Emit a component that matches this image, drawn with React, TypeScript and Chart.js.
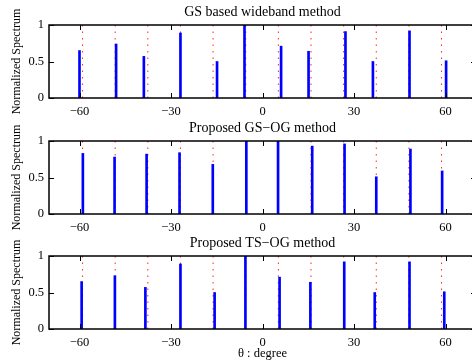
import React, { useEffect, useRef } from "react";
import { Chart, registerables } from "chart.js";
Chart.register(...registerables);

// ---- data ----
const panelTitles = ["GS based wideband method", "Proposed GS\u2212OG method", "Proposed TS\u2212OG method"];
const yAxisLabel = "Normalized Spectrum";
const xAxisLabel = "\u03b8 : degree";

const trueAngles = [-59.0, -48.3, -37.6, -26.9, -16.2, -5.5, 5.2, 15.9, 26.6, 37.3, 48.0, 58.7];

const gsAngles = [-60.0, -48.0, -38.9, -26.9, -14.9, -5.9, 6.1, 15.1, 27.2, 36.2, 48.2, 60.2];
const gsValues = [0.65, 0.74, 0.57, 0.89, 0.5, 1.0, 0.71, 0.64, 0.91, 0.5, 0.92, 0.51];

const gsogAngles = [-58.9, -48.5, -38.0, -27.2, -16.3, -5.3, 5.1, 16.3, 26.9, 37.3, 48.5, 58.9];
const gsogValues = [0.83, 0.78, 0.82, 0.84, 0.68, 1.0, 1.0, 0.93, 0.96, 0.51, 0.89, 0.59];

const tsogAngles = [-59.3, -48.4, -38.4, -26.9, -15.7, -5.6, 5.6, 15.7, 26.8, 36.8, 48.2, 59.6];
const tsogValues = [0.65, 0.73, 0.57, 0.89, 0.5, 1.0, 0.71, 0.64, 0.92, 0.5, 0.92, 0.51];

const xTicks = [-60, -30, 0, 30, 60];
const yTicks = [0, 0.5, 1];
const xMin = -70;
const xMax = 70;

const FONT = '"Liberation Serif", "Times New Roman", serif';

type PanelProps = {
  title: string;
  angles: number[];
  values: number[];
  top: number;
  height: number;
  xLabel?: string;
};

function Panel({ title, angles, values, top, height, xLabel }: PanelProps) {
  const ref = useRef<HTMLCanvasElement>(null);
  useEffect(() => {
    const canvas = ref.current!;
    const plotBottom = 98;
    const decor = {
      id: "decor",
      afterDatasetsDraw(chart: any) {
        const { ctx, chartArea: a } = chart;
        const xs = chart.scales.x;
        const ys = chart.scales.y;
        ctx.save();
        ctx.strokeStyle = "#000";
        ctx.lineWidth = 1;
        ctx.beginPath();
        xTicks.forEach((v) => {
          const px = Math.round(xs.getPixelForValue(v)) + 0.5;
          ctx.moveTo(px, a.bottom);
          ctx.lineTo(px, a.bottom - 5);
          ctx.moveTo(px, a.top);
          ctx.lineTo(px, a.top + 5);
        });
        yTicks.forEach((v) => {
          const py = Math.round(ys.getPixelForValue(v)) + 0.5;
          ctx.moveTo(a.left, py);
          ctx.lineTo(a.left + 5, py);
          ctx.moveTo(a.right, py);
          ctx.lineTo(a.right - 5, py);
        });
        ctx.stroke();
        ctx.lineWidth = 1.5;
        ctx.strokeRect(a.left, a.top, a.right - a.left, a.bottom - a.top);
        ctx.fillStyle = "#000";
        ctx.textAlign = "center";
        ctx.textBaseline = "alphabetic";
        ctx.font = `14px ${FONT}`;
        ctx.fillText(title, (a.left + a.right) / 2, a.top - 9.3);
        ctx.font = `12px ${FONT}`;
        ctx.save();
        ctx.translate(20, (a.top + a.bottom) / 2);
        ctx.rotate(-Math.PI / 2);
        ctx.fillText(yAxisLabel, 0, 0);
        ctx.restore();
        if (xLabel) {
          ctx.font = `12.5px ${FONT}`;
          ctx.fillText(xLabel, (a.left + a.right) / 2, 126);
        }
        ctx.restore();
      },
    };

    const redData: any[] = [];
    trueAngles.forEach((a) => {
      redData.push({ x: a, y: 0 }, { x: a, y: 1 }, { x: a, y: null });
    });

    const chart = new Chart(canvas, {
      type: "bar",
      data: {
        datasets: [
          {
            type: "bar",
            data: angles.map((a, i) => ({ x: a, y: values[i] })),
            backgroundColor: "#0000ff",
            barThickness: 2,
            order: 0,
          } as any,
          {
            type: "line",
            data: redData,
            borderColor: "rgba(255,0,0,0.85)",
            borderWidth: 1,
            borderDash: [1.5, 5],
            pointRadius: 0,
            spanGaps: false,
            order: 1,
          } as any,
        ],
      },
      options: {
        animation: false,
        responsive: false,
        events: [],
        layout: { padding: { left: 0, right: 4, top: 25, bottom: 0 } },
        plugins: {
          legend: { display: false },
          tooltip: { enabled: false },
          title: { display: false },
        },
        scales: {
          x: {
            type: "linear",
            min: xMin,
            max: xMax,
            offset: false,
            afterBuildTicks: (s: any) => {
              s.ticks = xTicks.map((v) => ({ value: v }));
            },
            afterFit: (s: any) => {
              s.height = height - plotBottom;
              s.paddingLeft = 0;
              s.paddingRight = 0;
            },
            grid: { display: false, drawTicks: false, offset: false },
            border: { display: false },
            ticks: {
              padding: 6,
              color: "#000",
              font: { family: FONT, size: 12.5 },
              maxRotation: 0,
              autoSkip: false,
              callback: (v: any) => String(v).replace("-", "\u2212"),
            },
          },
          y: {
            min: 0,
            max: 1,
            afterBuildTicks: (s: any) => {
              s.ticks = yTicks.map((v) => ({ value: v }));
            },
            afterFit: (s: any) => {
              s.width = 49;
              s.paddingTop = 0;
              s.paddingBottom = 0;
            },
            grid: { display: false, drawTicks: false },
            border: { display: false },
            ticks: {
              padding: 5,
              color: "#000",
              font: { family: FONT, size: 12.5 },
              autoSkip: false,
              callback: (v: any) => String(v),
            },
          },
        },
      } as any,
      plugins: [decor],
    });
    return () => chart.destroy();
  }, [title, angles, values, height, xLabel]);
  return (
    <canvas
      ref={ref}
      width={480}
      height={height}
      style={{ position: "absolute", left: 0, top, width: 480, height }}
    />
  );
}

export default function App() {
  return (
    <div
      style={{
        position: "fixed",
        left: 0,
        top: 0,
        width: 472,
        height: 362,
        overflow: "hidden",
        background: "#fff",
      }}
    >
      <Panel title={panelTitles[0]} angles={gsAngles} values={gsValues} top={0} height={116} />
      <Panel title={panelTitles[1]} angles={gsogAngles} values={gsogValues} top={116} height={115} />
      <Panel
        title={panelTitles[2]}
        angles={tsogAngles}
        values={tsogValues}
        top={231}
        height={131}
        xLabel={xAxisLabel}
      />
    </div>
  );
}
